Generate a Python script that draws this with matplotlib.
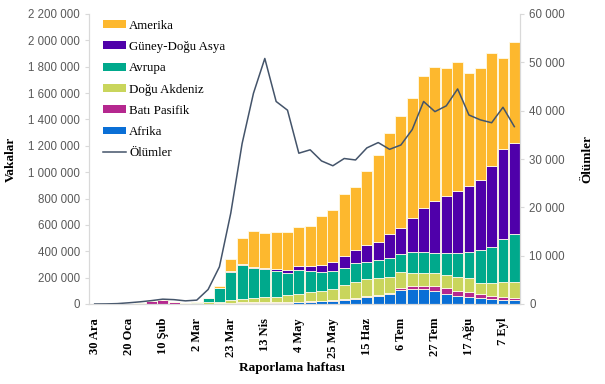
import numpy as np
import matplotlib
matplotlib.use('Agg')
import matplotlib.pyplot as plt
from matplotlib.ticker import FuncFormatter, MultipleLocator
from matplotlib.patches import Patch
from matplotlib.lines import Line2D

# ── Data (weekly, 30 Ara 2019 - 14 Eyl 2020) ─────────────────
weeks = ['30 Ara', '6 Oca', '13 Oca', '20 Oca', '27 Oca', '3 Şub', '10 Şub', '17 Şub',
         '24 Şub', '2 Mar', '9 Mar', '16 Mar', '23 Mar', '30 Mar', '6 Nis', '13 Nis',
         '20 Nis', '27 Nis', '4 May', '11 May', '18 May', '25 May', '1 Haz', '8 Haz',
         '15 Haz', '22 Haz', '29 Haz', '6 Tem', '13 Tem', '20 Tem', '27 Tem', '3 Ağu',
         '10 Ağu', '17 Ağu', '24 Ağu', '31 Ağu', '7 Eyl', '14 Eyl']

afrika = [0, 0, 0, 0, 0, 0, 0, 0, 0, 0,
          500, 1000, 2000, 4000, 5000, 6000, 7000, 9000, 12000, 15000,
          20000, 25000, 30000, 38000, 50000, 60000, 75000, 105000, 115000, 112000,
          95000, 75000, 60000, 55000, 43000, 35000, 30000, 28000]
bati_pasifik = [0, 0, 0, 1000, 9000, 22000, 32000, 12000, 3000, 4000,
                3000, 4000, 8000, 8000, 10000, 12000, 10000, 7000, 6000, 6000,
                6000, 6000, 7000, 8000, 9000, 10000, 12000, 15000, 20000, 25000,
                38000, 45000, 40000, 35000, 30000, 25000, 22000, 20000]
dogu_akdeniz = [0, 0, 0, 0, 0, 0, 0, 0, 1000, 4000,
                8000, 10000, 20000, 24000, 28000, 33000, 38000, 49000, 57000, 67000,
                74000, 84000, 108000, 124000, 131000, 130000, 120000, 120000, 103000, 96000,
                105000, 100000, 107000, 105000, 89000, 97000, 117000, 121000]
avrupa = [0, 0, 0, 0, 0, 0, 0, 0, 1000, 8000,
          35000, 105000, 215000, 260000, 232000, 212000, 198000, 172000, 183000, 165000,
          141000, 135000, 125000, 138000, 130000, 134000, 140000, 137000, 154000, 159000,
          147000, 169000, 182000, 202000, 248000, 273000, 322000, 362000]
guney_dogu_asya = [0, 0, 0, 0, 0, 0, 0, 0, 0, 0,
                   500, 500, 2000, 4000, 8000, 8000, 15000, 22000, 30000, 38000,
                   55000, 66000, 93000, 101000, 127000, 139000, 185000, 202000, 258000, 334000,
                   399000, 430000, 471000, 501000, 531000, 617000, 685000, 694000]
amerika = [0, 0, 0, 0, 0, 0, 0, 0, 0, 500,
           2000, 17000, 94000, 198000, 271000, 265000, 276000, 289000, 294000, 301000,
           372000, 397000, 469000, 476000, 564000, 658000, 763000, 847000, 911000, 1006000,
           1016000, 969000, 974000, 857000, 852000, 860000, 693000, 760000]

olumler = [0, 20, 80, 250, 450, 700, 1000, 900, 650, 800,
           3000, 7700, 18800, 33200, 43600, 50800, 41900, 40100, 31200, 31900,
           29600, 28600, 30100, 29800, 32300, 33400, 32000, 32900, 36100, 41900,
           39800, 41000, 44500, 39100, 38100, 37500, 40700, 36700]

regions = ['Afrika', 'Batı Pasifik', 'Doğu Akdeniz', 'Avrupa', 'Güney-Doğu Asya', 'Amerika']
series = [afrika, bati_pasifik, dogu_akdeniz, avrupa, guney_dogu_asya, amerika]
colors = ['#0a6fd6', '#b5288f', '#c9d55c', '#00a98c', '#4f00aa', '#fdb82e']

# ── Figure ───────────────────────────────────────────────────
fig = plt.figure(figsize=(6.05, 3.84), dpi=100)
ax = fig.add_axes([89 / 605, 1 - 304 / 384, (520 - 89) / 605, (304 - 14) / 384])
ax2 = ax.twinx()

x = np.arange(len(weeks))
bottom = np.zeros(len(weeks))
for name, vals, col in zip(regions, series, colors):
    vals = np.array(vals, dtype=float)
    ax.bar(x, vals, bottom=bottom, width=0.96, color=col, edgecolor='#fffbe8',
           linewidth=0.6, label=name)
    bottom += vals

ax2.plot(x, olumler, color='#44546a', linewidth=1.1, label='Ölümler')

ax.set_xlim(-0.5, len(weeks) - 0.5)
ax.set_ylim(0, 2200000)
ax2.set_ylim(0, 60000)
ax.yaxis.set_major_locator(MultipleLocator(200000))
ax2.yaxis.set_major_locator(MultipleLocator(10000))
fmt = FuncFormatter(lambda v, p: f"{int(round(v)):,}".replace(',', ' '))
ax.yaxis.set_major_formatter(fmt)
ax2.yaxis.set_major_formatter(fmt)

tick_idx = list(range(0, len(weeks), 3))
ax.set_xticks(tick_idx)
ax.set_xticklabels([weeks[i] for i in tick_idx], rotation=90, fontsize=9,
                   fontweight='bold', family='Liberation Serif')
ax.tick_params(axis='x', length=0, pad=10)

for a in (ax, ax2):
    a.spines['top'].set_visible(False)
    for s in ('left', 'right', 'bottom'):
        a.spines[s].set_color('#d9d9d9')
    a.tick_params(axis='y', labelsize=8.3, labelcolor='#595959', color='#d9d9d9', length=3)
for lab in ax.get_yticklabels() + ax2.get_yticklabels():
    lab.set_family('Liberation Sans')

ax.set_ylabel('Vakalar', fontsize=9.5, fontweight='bold', family='Liberation Serif', labelpad=8)
ax2.set_ylabel('Ölümler', fontsize=9.5, fontweight='bold', family='Liberation Serif', labelpad=12)
ax.set_xlabel('Raporlama haftası', fontsize=9.5, fontweight='bold', family='Liberation Serif')
ax.xaxis.set_label_coords(0.47, -0.2)

# ── Legend ───────────────────────────────────────────────────
handles = [Patch(facecolor=c, edgecolor='none') for c in colors][::-1]
labels = regions[::-1]
handles.append(Line2D([], [], color='#44546a', linewidth=1.1))
labels.append('Ölümler')
leg = ax2.legend(handles, labels, loc='upper left', bbox_to_anchor=(91 / 605, 1 - 8 / 384),
                 bbox_transform=fig.transFigure, frameon=False,
                 prop={'family': 'Liberation Serif', 'size': 9.3},
                 handlelength=1.8, handleheight=0.55, handletextpad=0.25, labelspacing=0.72)

fig.savefig('out.png', dpi=100)
